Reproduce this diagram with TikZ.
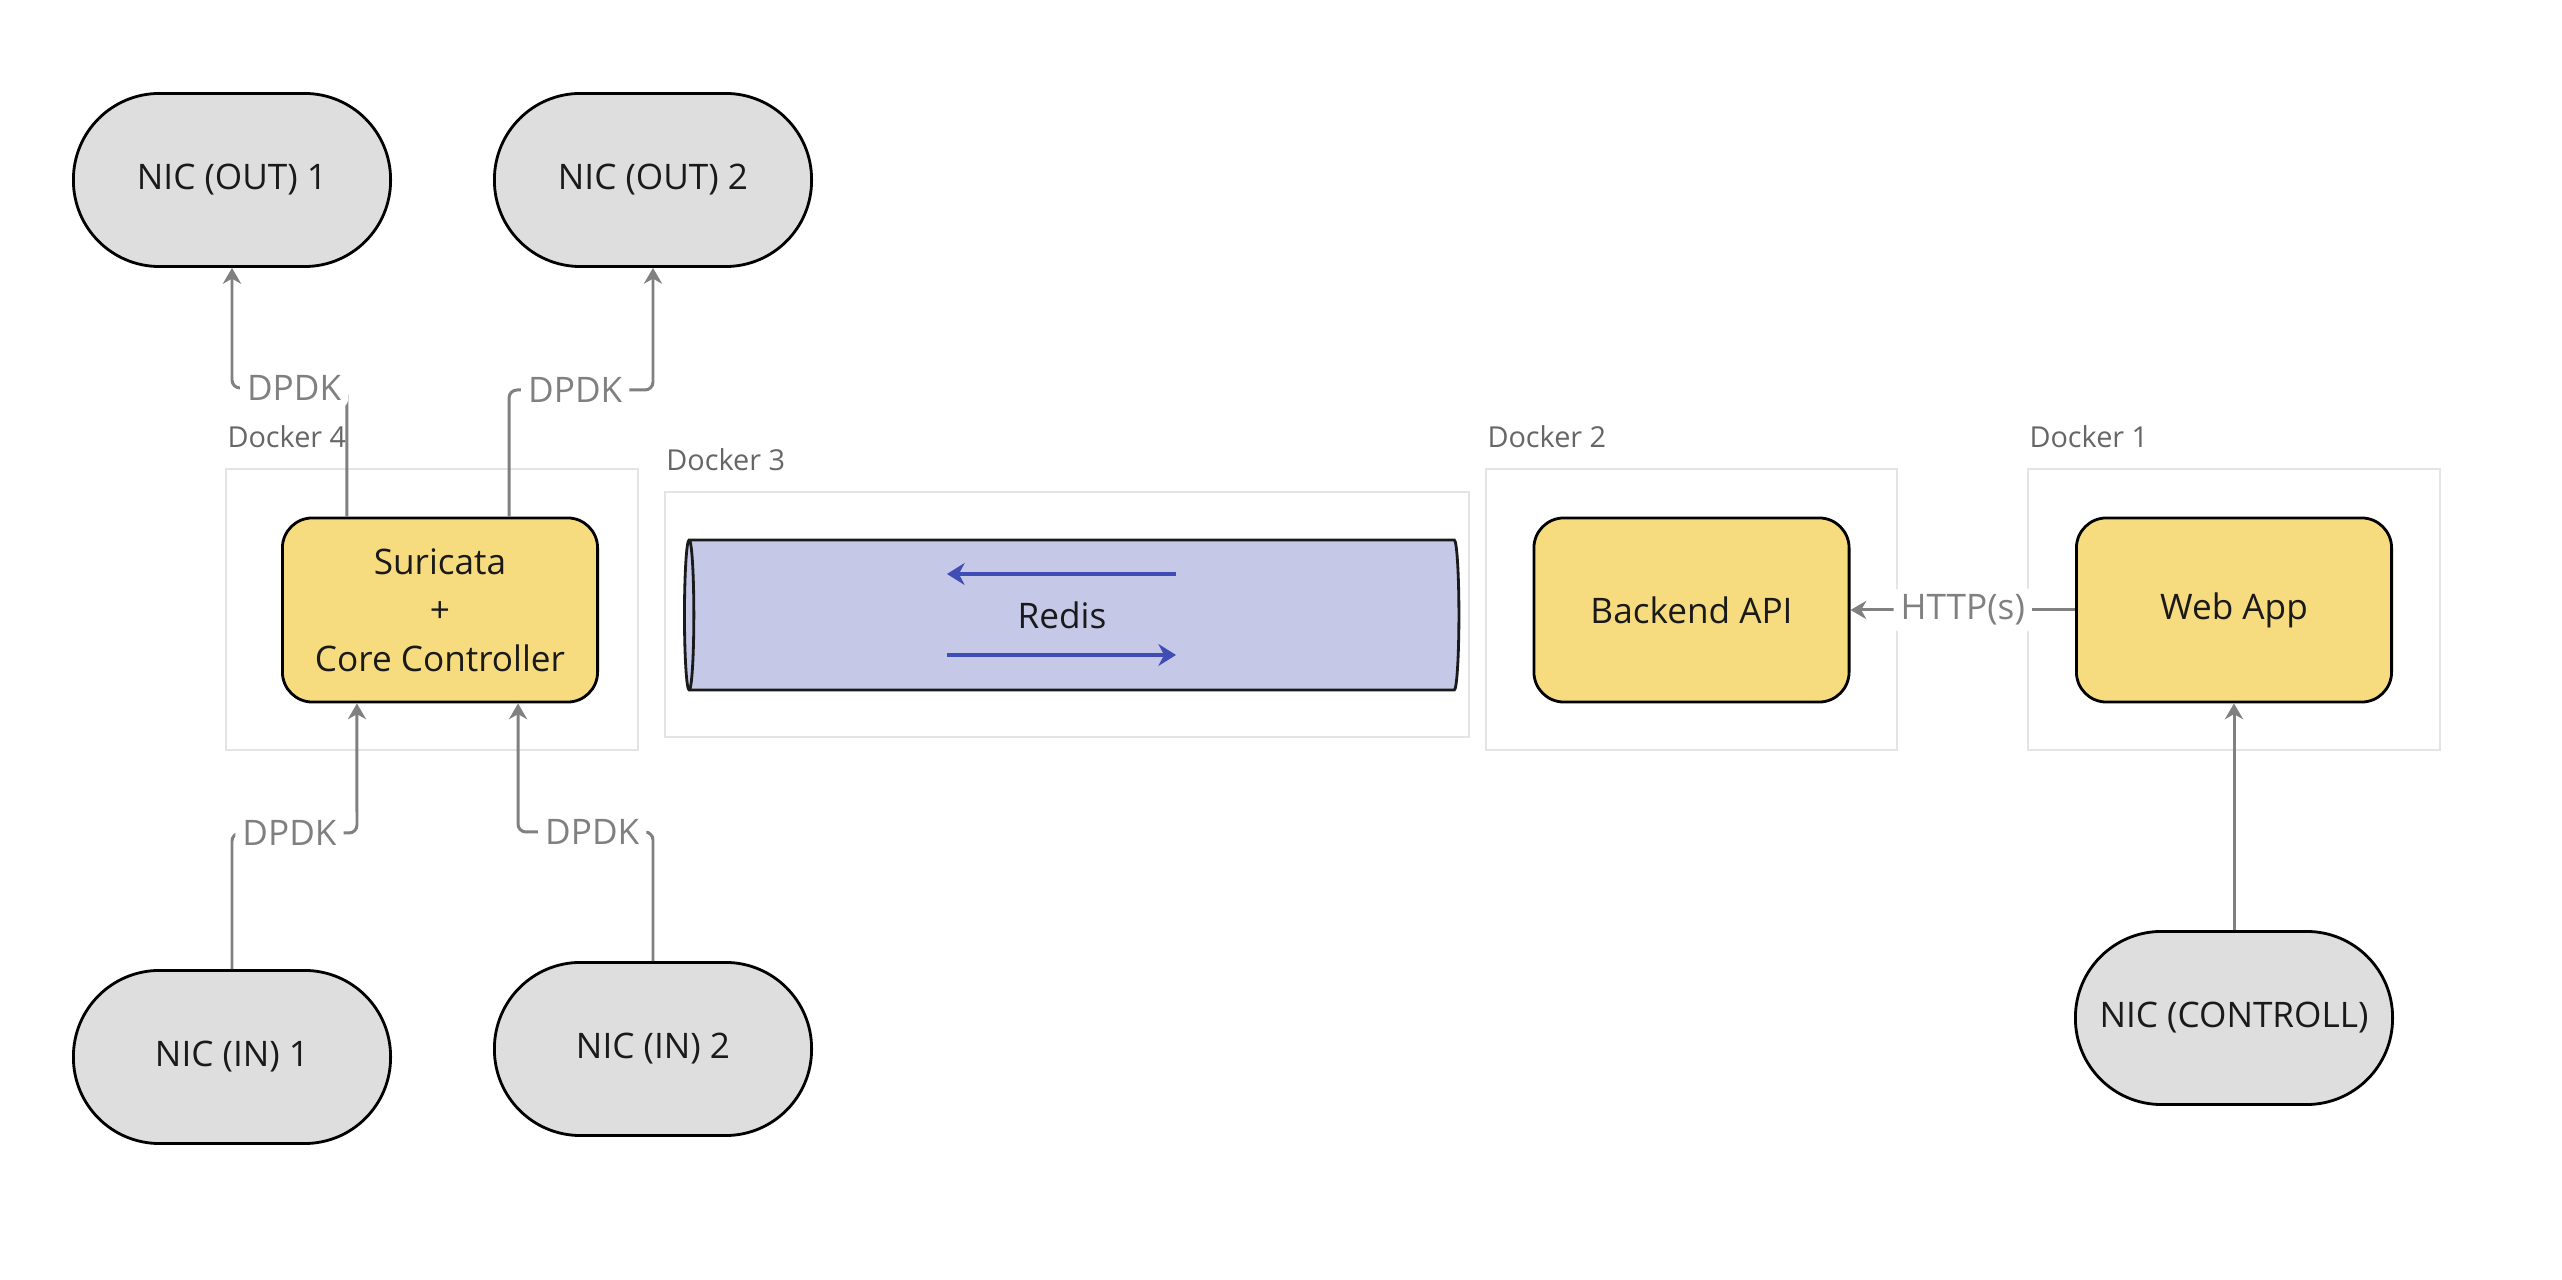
\documentclass[tikz,border=0pt]{standalone}
\usepackage{fontspec}
\setmainfont{Open Sans}
\usetikzlibrary{shapes.geometric, arrows.meta}
\definecolor{nicgray}{RGB}{222,222,222}
\definecolor{boxyellow}{RGB}{247,220,127}
\definecolor{redisfill}{RGB}{197,200,230}
\definecolor{redisarrow}{RGB}{63,77,181}
\definecolor{linegray}{RGB}{128,128,128}
\definecolor{framegray}{RGB}{228,228,228}
\definecolor{namegray}{RGB}{102,102,102}
\definecolor{inkblack}{RGB}{26,26,26}
\tikzstyle{nic} = [rectangle, rounded corners=0.86cm, minimum width=3.17cm, minimum height=1.73cm, text centered, draw=black, thick, fill=nicgray, text=inkblack, font=\fontsize{10}{13.8}\selectfont]
\tikzstyle{service} = [rectangle, rounded corners=0.3cm, minimum width=3.15cm, minimum height=1.84cm, align=center, draw=black, thick, fill=boxyellow, text=inkblack, font=\fontsize{10}{13.8}\selectfont]
\tikzstyle{docker} = [rectangle, draw=framegray, line width=0.6pt, minimum height=2.81cm]
\tikzstyle{dockername} = [anchor=base west, inner sep=0pt, text=namegray, font=\fontsize{8.2}{10}\selectfont]
\tikzstyle{arrow} = [line width=0.85pt, draw=linegray, ->, >={Stealth[length=4.5pt, width=5.2pt]}, rounded corners=0.08cm]
\tikzstyle{tag} = [fill=white, text=linegray, inner sep=0.07cm, font=\fontsize{10}{12}\selectfont]
\tikzstyle{flow} = [line width=0.9pt, draw=redisarrow, ->, >={Stealth[length=5pt, width=6.2pt]}]

\begin{document}
\begin{tikzpicture}[x=0.01cm, y=-0.01cm]
						\fill[white] (0,0) rectangle (2562,1280);
						% docker frames
						\node (d4) [docker, minimum width=4.12cm] at (432,609.5) {};
						\node (d3) [docker, minimum width=8.04cm, minimum height=2.45cm] at (1067,614.5) {};
						\node (d2) [docker, minimum width=4.11cm] at (1691.5,609.5) {};
						\node (d1) [docker, minimum width=4.12cm] at (2234,609.5) {};
						\node (d4name) [dockername] at ([xshift=0.02cm, yshift=0.2cm]d4.north west) {Docker 4};
						\node (d3name) [dockername] at ([xshift=0.02cm, yshift=0.2cm]d3.north west) {Docker 3};
						\node (d2name) [dockername] at ([xshift=0.02cm, yshift=0.2cm]d2.north west) {Docker 2};
						\node (d1name) [dockername] at ([xshift=0.02cm, yshift=0.2cm]d1.north west) {Docker 1};
						% network cards
						\node (out1) [nic] at (232,180) {NIC (OUT) 1};
						\node (out2) [nic] at (653,180) {NIC (OUT) 2};
						\node (in1) [nic] at (232,1057) {NIC (IN) 1};
						\node (in2) [nic] at (653,1049) {NIC (IN) 2};
						\node (ctl) [nic] at (2234,1018) {NIC (CONTROLL)};
						% services
						\node (sur) [service] at (440,610) {Suricata\\+\\Core Controller};
						\node (api) [service] at (1691.5,610) {Backend API};
						\node (web) [service] at (2234,610) {Web App};
						\node (redis) [cylinder, shape border rotate=180, aspect=0.4, minimum width=1.5cm, minimum height=7.74cm, draw=inkblack, thick, fill=redisfill] at (1076,615) {};
						\node (redisname) [text=inkblack, font=\fontsize{10}{12}\selectfont] at (1062,615) {Redis};
						\draw [flow] (1176,574) -- (947,574);
						\draw [flow] (947,655) -- (1176,655);
						% connections
						\draw [arrow] (in1.north) |- node[tag, pos=0.73] {DPDK} (357,833) -- ([xshift=-0.83cm]sur.south);
						\draw [arrow] (in2.north) |- node[tag, pos=0.725] {DPDK} (518,832) -- ([xshift=0.78cm]sur.south);
						\draw [arrow] ([xshift=-0.93cm]sur.north) |- node[tag, pos=0.73] {DPDK} (232,388) -- (out1.south);
						\draw [arrow] ([xshift=0.69cm]sur.north) |- node[tag, pos=0.73] {DPDK} (653,390) -- (out2.south);
						\draw [arrow] (ctl.north) -- (web.south);
						\draw [arrow] (web.west) -- node[tag] {HTTP(s)} (api.east);
					\end{tikzpicture}
\end{document}
